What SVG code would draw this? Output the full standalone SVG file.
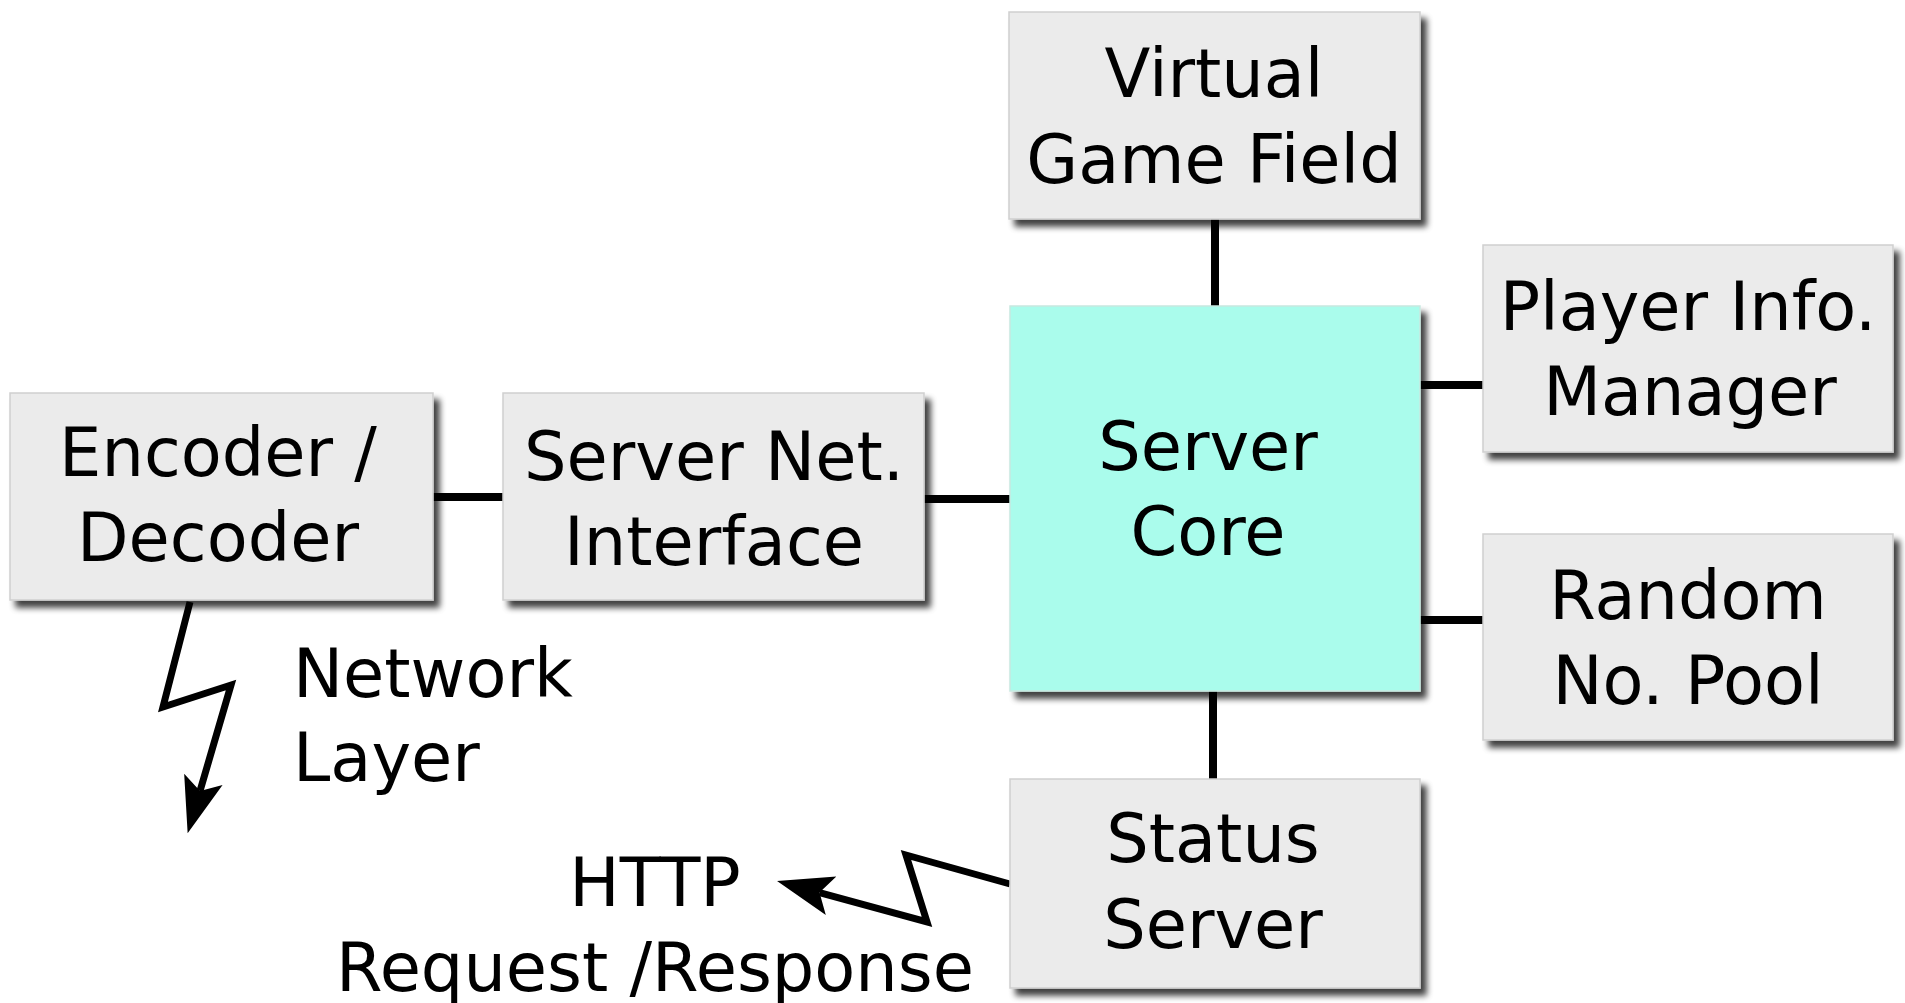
<svg xmlns="http://www.w3.org/2000/svg" width="1905" height="1003" viewBox="0 0 1905 1003">
<style>
.box{fill:#ebebeb;stroke:#cfcfcf;stroke-width:1.5;filter:url(#sh)}
.core{fill:#aafcec;stroke:#c8e8e0;stroke-width:1.5;filter:url(#sh)}
.lbl{font-family:"DejaVu Sans","Liberation Sans",sans-serif;font-size:67px;fill:#000;text-anchor:middle}
.conn{stroke:#000;stroke-width:8;fill:none}
.zz{stroke:#000;stroke-width:7;fill:none;stroke-linejoin:miter;stroke-miterlimit:10}
</style>
<defs>
<filter id="sh" x="-10%" y="-10%" width="130%" height="130%">
<feGaussianBlur in="SourceAlpha" stdDeviation="3"/>
<feOffset dx="6" dy="7" result="b"/>
<feComponentTransfer><feFuncA type="linear" slope="0.75"/></feComponentTransfer>
<feMerge><feMergeNode/><feMergeNode in="SourceGraphic"/></feMerge>
</filter>
<marker id="ah" markerUnits="userSpaceOnUse" viewBox="0 0 56 44" markerWidth="56" markerHeight="44" refX="12" refY="22" orient="auto">
<path d="M0,2 L56,22 L0,42 L12,22 Z" fill="#000"/>
</marker>
</defs>
<rect width="1905" height="1003" fill="#fff"/>
<g id="connectors">
<line class="conn" x1="433" y1="497" x2="503" y2="497"/>
<line class="conn" x1="924" y1="499" x2="1010" y2="499"/>
<line class="conn" x1="1215" y1="219" x2="1215" y2="306"/>
<line class="conn" x1="1420" y1="385" x2="1483" y2="385"/>
<line class="conn" x1="1420" y1="620" x2="1483" y2="620"/>
<line class="conn" x1="1213" y1="691" x2="1213" y2="779"/>
<path class="zz" d="M190,602 L163,707 L231,685 L200,791" marker-end="url(#ah)"/>
<path class="zz" d="M1010,884 L906,855 L927,922 L819.5,892.6" marker-end="url(#ah)"/>
</g>
<g id="encoder">
<rect class="box" x="10" y="393" width="423" height="207"/>
<text class="lbl" x="218" y="476">Encoder /</text>
<text class="lbl" x="218" y="561">Decoder</text>
</g>
<g id="servernet">
<rect class="box" x="503" y="393" width="421" height="207"/>
<text class="lbl" x="714" y="480">Server Net.</text>
<text class="lbl" x="714" y="565">Interface</text>
</g>
<g id="core">
<rect class="core" x="1010" y="306" width="410" height="385"/>
<text class="lbl" x="1208" y="470">Server</text>
<text class="lbl" x="1208" y="555">Core</text>
</g>
<g id="virtual">
<rect class="box" x="1009" y="12" width="411" height="207"/>
<text class="lbl" x="1214" y="97">Virtual</text>
<text class="lbl" x="1214" y="183">Game Field</text>
</g>
<g id="player">
<rect class="box" x="1483" y="245" width="410" height="207"/>
<text class="lbl" x="1688" y="330">Player Info.</text>
<text class="lbl" x="1690" y="415">Manager</text>
</g>
<g id="random">
<rect class="box" x="1483" y="534" width="410" height="206"/>
<text class="lbl" x="1688" y="619">Random</text>
<text class="lbl" x="1688" y="704">No. Pool</text>
</g>
<g id="status">
<rect class="box" x="1010" y="779" width="410" height="209"/>
<text class="lbl" x="1213" y="862">Status</text>
<text class="lbl" x="1213" y="948">Server</text>
</g>
<g id="labels">
<text class="lbl" x="293" y="697" style="text-anchor:start">Network</text>
<text class="lbl" x="293" y="781" style="text-anchor:start">Layer</text>
<text class="lbl" x="655" y="906">HTTP</text>
<text class="lbl" x="655" y="991">Request /Response</text>
</g>
</svg>
